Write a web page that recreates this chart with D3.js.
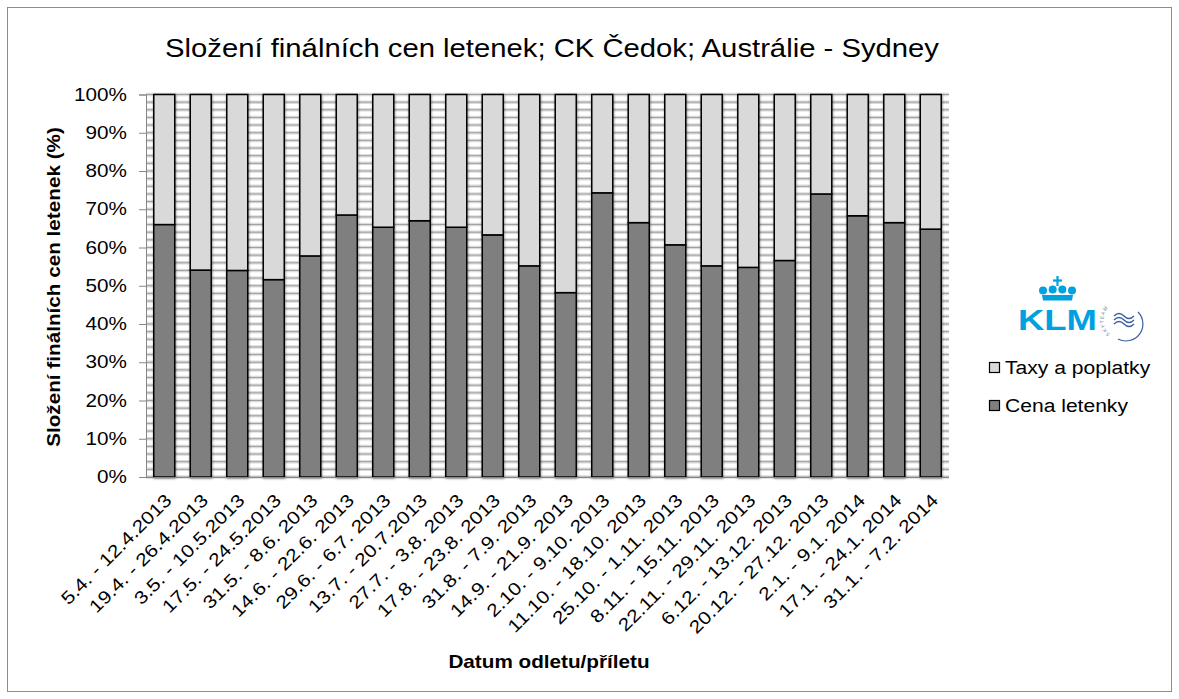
<!DOCTYPE html>
<html>
<head>
<meta charset="utf-8">
<script src="https://cdn.jsdelivr.net/npm/d3@7"></script>
<style>
  html, body { margin: 0; padding: 0; background: #fff; }
  svg { display: block; font-family: "Liberation Sans", Arial, sans-serif; }
</style>
</head>
<body>
<svg id="chart" width="1179" height="699"></svg>
<script>
// ---- data ----
const categories = [
  "5.4. - 12.4.2013", "19.4. - 26.4.2013", "3.5. - 10.5.2013", "17.5. - 24.5.2013",
  "31.5. - 8.6. 2013", "14.6. - 22.6. 2013", "29.6. - 6.7. 2013", "13.7. - 20.7.2013",
  "27.7. - 3.8. 2013", "17.8. - 23.8. 2013", "31.8. - 7.9. 2013", "14.9. - 21.9. 2013",
  "2.10. - 9.10. 2013", "11.10. - 18.10. 2013", "25.10. - 1.11. 2013", "8.11. - 15.11. 2013",
  "22.11. - 29.11. 2013", "6.12. - 13.12. 2013", "20.12. - 27.12. 2013", "2.1. - 9.1. 2014",
  "17.1. - 24.1. 2014", "31.1. - 7.2. 2014"
];
const cenaLetenky = [66.0, 54.1, 54.0, 51.6, 57.8, 68.5, 65.3, 67.0, 65.3, 63.3, 55.2,
                     48.2, 74.3, 66.5, 60.7, 55.2, 54.8, 56.6, 74.0, 68.3, 66.5, 64.8];
const taxyAPoplatky = [34.0, 45.9, 46.0, 48.4, 42.2, 31.5, 34.7, 33.0, 34.7, 36.7, 44.8,
                       51.8, 25.7, 33.5, 39.3, 44.8, 45.2, 43.4, 26.0, 31.7, 33.5, 35.2];
const seriesNames = ["Cena letenky", "Taxy a poplatky"];
const yTicks = [0, 10, 20, 30, 40, 50, 60, 70, 80, 90, 100];
const yMinorTicks = d3.range(0, 101, 2);
const titleText = "Složení finálních cen letenek; CK Čedok; Austrálie - Sydney";
const yTitle = "Složení finálních cen letenek (%)";
const xTitle = "Datum odletu/příletu";

// ---- setup ----
const svg = d3.select("#chart");
const plot = { left: 146, right: 949, top: 94.5, bottom: 477 };
const colors = { "Cena letenky": "#7f7f7f", "Taxy a poplatky": "#d9d9d9" };
const STRETCH = 1.17;
function stretch(sel, k) {
  sel.each(function () {
    const L = this.getComputedTextLength();
    d3.select(this).attr("textLength", L * k).attr("lengthAdjust", "spacingAndGlyphs");
  });
}

// outer border
svg.append("rect").attr("x", 7.5).attr("y", 7.5).attr("width", 1164).attr("height", 684)
  .attr("fill", "#fff").attr("stroke", "#8c8c8c").attr("stroke-width", 1);

const defs = svg.append("defs");
const f = defs.append("filter").attr("id", "shadow").attr("x", "-20%").attr("y", "-5%")
  .attr("width", "140%").attr("height", "110%");
f.append("feDropShadow").attr("dx", 0.5).attr("dy", 1).attr("stdDeviation", 1)
  .attr("flood-color", "#000").attr("flood-opacity", 0.45);

const x = d3.scaleBand().domain(categories).range([plot.left, plot.right])
  .paddingInner(0.425).paddingOuter(0.2125);
const y = d3.scaleLinear().domain([0, 100]).range([plot.bottom, plot.top]);

// gridlines (minor every 2 %)
const grid = svg.append("g");
grid.selectAll("line.halo").data(yMinorTicks).join("line")
  .attr("x1", plot.left).attr("x2", plot.right)
  .attr("y1", d => y(d)).attr("y2", d => y(d))
  .attr("stroke", "#dcdcdc").attr("stroke-width", 3.5);
grid.selectAll("line.core").data(yMinorTicks).join("line")
  .attr("x1", plot.left).attr("x2", plot.right)
  .attr("y1", d => y(d)).attr("y2", d => y(d))
  .attr("stroke", "#9f9f9f").attr("stroke-width", 1);

// stacked bars
const rows = categories.map((c, i) => ({ cat: c, "Cena letenky": cenaLetenky[i], "Taxy a poplatky": taxyAPoplatky[i] }));
const stacked = d3.stack().keys(seriesNames).offset(d3.stackOffsetExpand)(rows);

const barsG = svg.append("g").attr("filter", "url(#shadow)");
barsG.selectAll("g").data(stacked).join("g")
  .attr("fill", d => colors[d.key])
  .selectAll("rect").data(d => d).join("rect")
  .attr("x", d => x(d.data.cat))
  .attr("width", x.bandwidth())
  .attr("y", d => y(d[1] * 100))
  .attr("height", d => y(d[0] * 100) - y(d[1] * 100))
  .attr("stroke", "#000").attr("stroke-width", 1.5);

// y axis
const yAxis = svg.append("g").attr("transform", `translate(${plot.left},0)`)
  .call(d3.axisLeft(y).tickValues(yTicks).tickSize(7).tickPadding(12).tickFormat(d => d + "%"));
yAxis.select(".domain").attr("stroke", "#868686");
yAxis.selectAll(".tick line").attr("stroke", "#868686");
yAxis.selectAll("text").attr("font-size", 17.7).attr("fill", "#000")
  .attr("font-family", "Liberation Sans, Arial, sans-serif").call(stretch, STRETCH);

// x axis
const xAxis = svg.append("g").attr("transform", `translate(0,${plot.bottom})`)
  .call(d3.axisBottom(x).tickSize(0));
xAxis.select(".domain").attr("stroke", "#868686").attr("d", `M${plot.left - 7},0.5H${plot.right}`);
xAxis.selectAll("text")
  .attr("x", 0).attr("y", 0).attr("dy", "0.35em")
  .attr("text-anchor", "end")
  .attr("transform", "translate(4,20) rotate(-45)")
  .attr("font-size", 18).attr("fill", "#000")
  .attr("font-family", "Liberation Sans, Arial, sans-serif").call(stretch, STRETCH);

// titles
svg.append("text").attr("x", 552).attr("y", 57).attr("text-anchor", "middle")
  .attr("font-size", 25).text(titleText).call(stretch, STRETCH);
svg.append("text").attr("transform", "translate(60,287) rotate(-90)")
  .attr("text-anchor", "middle").attr("font-size", 17.7).attr("font-weight", "bold")
  .text(yTitle).call(stretch, STRETCH);
svg.append("text").attr("x", 549).attr("y", 668).attr("text-anchor", "middle")
  .attr("font-size", 17.7).attr("font-weight", "bold").text(xTitle).call(stretch, STRETCH);

// KLM logo (decoration)
const logo = svg.append("g");
const klmBlue = "#00a1de";
logo.append("line").attr("x1", 1057.5).attr("x2", 1057.5).attr("y1", 276).attr("y2", 286)
  .attr("stroke", klmBlue).attr("stroke-width", 2.2);
logo.append("line").attr("x1", 1053).attr("x2", 1062).attr("y1", 280.5).attr("y2", 280.5)
  .attr("stroke", klmBlue).attr("stroke-width", 2.2);
[1043, 1052.7, 1062.3, 1072].forEach((cx, i) => {
  logo.append("circle").attr("cx", cx).attr("cy", (i === 0 || i === 3) ? 290.5 : 289.5).attr("r", 4).attr("fill", klmBlue);
});
logo.append("path").attr("d", "M1042,295 L1073,295 L1072,300.5 L1043,300.5 Z").attr("fill", klmBlue);
logo.append("text").attr("x", 1018).attr("y", 330).attr("font-size", 30).attr("font-weight", "bold")
  .attr("fill", klmBlue).attr("textLength", 79).attr("lengthAdjust", "spacingAndGlyphs").text("KLM");
const sky = "#3a5fa0";
defs.append("path").attr("id", "skyarc").attr("d", "M1110,334 A16,16 0 0 1 1134,306");
logo.append("text").attr("font-size", 5).attr("fill", "#6a7f9a").attr("letter-spacing", "0.8px")
  .append("textPath").attr("href", "#skyarc").text("SKYTEAM");
logo.append("path").attr("d", "M1138,312 A17,17 0 0 1 1118,339").attr("fill", "none").attr("stroke", sky).attr("stroke-width", 1.2);
[0, 4, 8].forEach(dy => {
  logo.append("path").attr("d", `M1114,${316 + dy} q5,-5 10,0 t10,0`).attr("fill", "none")
    .attr("stroke", sky).attr("stroke-width", 1.4);
});

// legend
const legend = svg.append("g");
const legendItems = ["Taxy a poplatky", "Cena letenky"];
legendItems.forEach((name, i) => {
  const cy = 368 + i * 38;
  legend.append("rect").attr("x", 989.5).attr("y", cy - 5.5).attr("width", 10).attr("height", 10)
    .attr("fill", colors[name]).attr("stroke", "#000").attr("stroke-width", 1.2);
  legend.append("text").attr("x", 1005).attr("y", cy).attr("dy", "0.35em")
    .attr("font-size", 18).text(name).call(stretch, STRETCH);
});
</script>
</body>
</html>
